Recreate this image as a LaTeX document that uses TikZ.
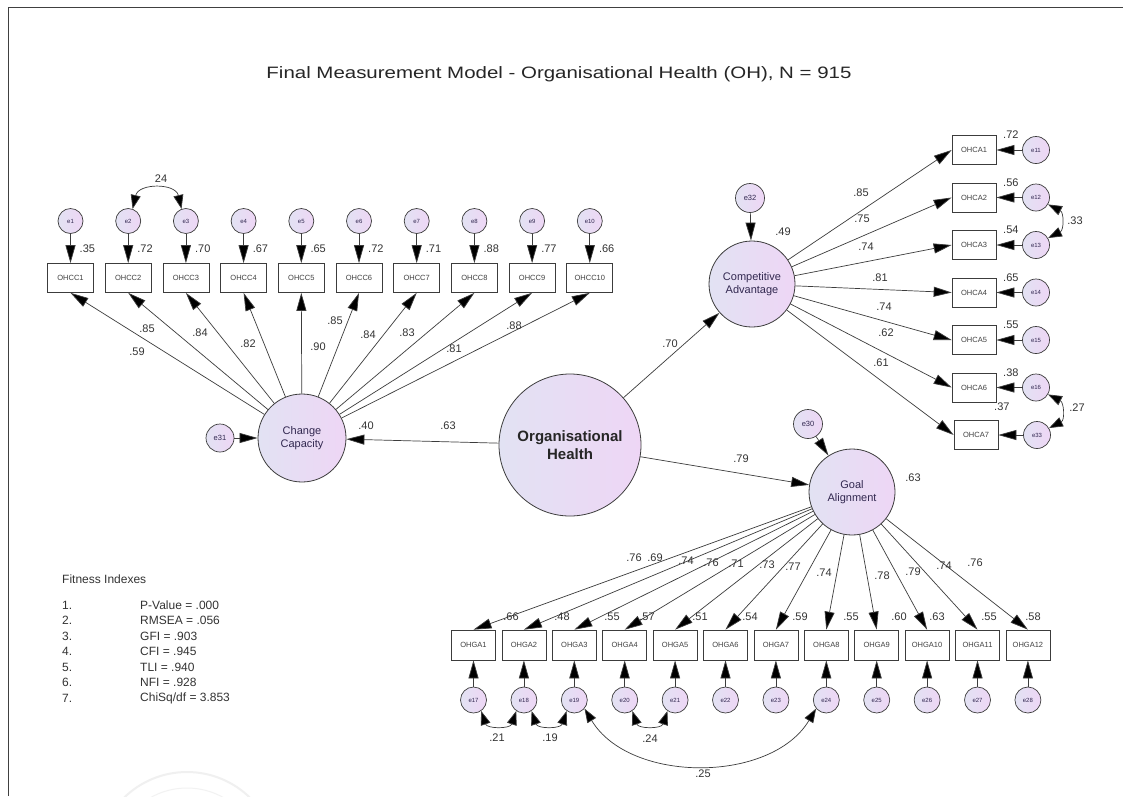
\documentclass[tikz,border=0pt]{standalone}
\usepackage{fontspec}
\setmainfont{Liberation Sans}
\usetikzlibrary{arrows.meta}

\definecolor{ln}{RGB}{60,60,60}
\definecolor{lavL}{RGB}{226,226,243}
\definecolor{lavR}{RGB}{238,214,245}
\definecolor{txtp}{RGB}{50,40,80}

\tikzset{
  lat/.style={circle, draw=ln, line width=0.8pt, left color=lavL, right color=lavR,
              text=txtp, align=center, inner sep=0pt, font=\fontsize{11}{12.5}\selectfont},
  err/.style={circle, draw=ln, line width=0.7pt, left color=lavL, right color=lavR,
              minimum size=25pt, inner sep=0pt, font=\fontsize{6}{6}\selectfont, text=txtp},
  obs/.style={rectangle, draw=ln, line width=0.7pt, fill=white, minimum width=46pt,
              minimum height=29pt, inner sep=0pt, font=\fontsize{7.5}{7.5}\selectfont, text=black!75},
  arr/.style={draw=ln, line width=0.7pt, -{Triangle[length=18pt,width=10pt,fill=black]}},
  cov/.style={draw=ln, line width=0.7pt,
              {Triangle[length=14pt,width=10pt,fill=black]}-{Triangle[length=14pt,width=10pt,fill=black]}},
  val/.style={font=\fontsize{11}{11}\selectfont, text=black!80, inner sep=0pt},
  fitt/.style={font=\fontsize{12}{12}\selectfont, text=black!80, inner sep=0pt, anchor=west},
}

\begin{document}
\begin{tikzpicture}[x=1pt,y=-1pt]
\useasboundingbox (0,0) rectangle (1123,796);
\fill[white] (0,0) rectangle (1123,796);
% page frame
\draw[black!75, line width=0.8pt] (8,796) -- (8,7) -- (1123,7);
% faint seal in the lower left corner
\begin{scope}
\clip (0,0) rectangle (1123,796);
\draw[black!6, line width=2pt] (187,862) circle[radius=90];
\draw[black!5, line width=1pt] (187,862) circle[radius=74];
\end{scope}

% title
\node[font=\fontsize{16.5}{16.5}\selectfont, text=black!85, xscale=1.24, transform shape] (title) at (559,74)
  {Final Measurement Model - Organisational Health (OH), N = 915};

% ---------- Change Capacity ----------
\foreach \i/\r in {1/.35,2/.72,3/.70,4/.67,5/.65,6/.72,7/.71,8/.88,9/.77,10/.66}{
  \pgfmathsetmacro\xx{70.5+57.7*(\i-1)}
  \node[obs] (OHCC\i) at (\xx,278) {OHCC\i};
  \node[err] (e\i) at (\xx,221) {e\i};
  \draw[arr] (e\i) -- (OHCC\i);
  \node[val, anchor=west] (rcc\i) at (\xx+9,249) {\r};
}
\draw[cov] (e2.70) .. controls +(6,-26) and +(-6,-26) .. (e3.110);
\node[val] (c23) at (161,179) {24};

\node[lat, minimum size=88pt] (CC) at (302,438) {Change\\Capacity};
\node[err, minimum size=28pt, font=\fontsize{7.5}{7.5}\selectfont] (e31) at (220,438) {e31};
\draw[arr] (e31) -- (CC);
\foreach \i in {1,...,10}{ \draw[arr] (CC) -- (OHCC\i.south); }
\node[val] (lcc1) at (137,352) {.59};
\node[val] (lcc2) at (147,329) {.85};
\node[val] (lcc3) at (200,333) {.84};
\node[val] (lcc4) at (248,344) {.82};
\node[val] (lcc5) at (318,347) {.90};
\node[val] (lcc6) at (335,321) {.85};
\node[val] (lcc7) at (368,335) {.84};
\node[val] (lcc8) at (407,333) {.83};
\node[val] (lcc9) at (454,349) {.81};
\node[val] (lcc10) at (514,326) {.88};
\node[val] (rCC) at (366,426) {.40};

% ---------- Organisational Health ----------
\node[lat, minimum size=142pt, font=\bfseries\fontsize{15}{18}\selectfont, text=black!85] (OH) at (570,445)
  {Organisational\\Health};
\draw[arr] (OH) -- (CC);
\node[val] (lOHCC) at (448,426) {.63};

% ---------- Competitive Advantage ----------
\node[lat, minimum size=86pt] (CA) at (752,284) {Competitive\\Advantage};
\node[err, minimum size=29pt, font=\fontsize{7.5}{7.5}\selectfont] (e32) at (750,198) {e32};
\draw[arr] (e32) -- (CA);
\node[val] (rCA) at (783,232) {.49};
\draw[arr] (OH) -- (CA);
\node[val] (lOHCA) at (670,344) {.70};

\foreach \i/\r in {1/.72,2/.56,3/.54,4/.65,5/.55,6/.38}{
  \pgfmathsetmacro\yy{150+47.5*(\i-1)}
  \node[obs, minimum width=44pt] (OHCA\i) at (974,\yy) {OHCA\i};
  \node[err, minimum size=27pt] (e1\i) at (1036,\yy) {e1\i};
  \draw[arr] (e1\i) -- (OHCA\i);
  \draw[arr] (CA) -- (OHCA\i.west);
  \node[val, anchor=west] (rca\i) at (1003,\yy-15) {\r};
}
\node[obs, minimum width=44pt] (OHCA7) at (976,435) {OHCA7};
\node[err, minimum size=27pt] (e33) at (1037,435) {e33};
\draw[arr] (e33) -- (OHCA7);
\draw[arr] (CA) -- (OHCA7.west);
\node[val, anchor=west] (rca7) at (994,407) {.37};

\node[val] (lca1) at (861,193) {.85};
\node[val] (lca2) at (862,219) {.75};
\node[val] (lca3) at (866,247) {.74};
\node[val] (lca4) at (880,278) {.81};
\node[val] (lca5) at (884,307) {.74};
\node[val] (lca6) at (886,333) {.62};
\node[val] (lca7) at (881,363) {.61};

\draw[cov] (e12.-30) .. controls +(16,8) and +(16,-8) .. (e13.30);
\node[val] (c1213) at (1075,221) {.33};
\draw[cov] (e16.-30) .. controls +(16,8) and +(16,-8) .. (e33.30);
\node[val] (c1633) at (1077,408) {.27};

% ---------- Goal Alignment ----------
\node[lat, minimum size=86pt] (GA) at (852,492) {Goal\\Alignment};
\node[err, minimum size=29pt, font=\fontsize{7.5}{7.5}\selectfont] (e30) at (808,424) {e30};
\draw[arr] (e30) -- (GA);
\node[val] (rGA) at (913,478) {.63};
\draw[arr] (OH) -- (GA);
\node[val] (lOHGA) at (741,459) {.79};

\foreach \i/\e/\r/\rx in {1/17/.66/511,2/18/.48/562,3/19/.55/612,4/20/.57/647,5/21/.51/700,6/22/.54/750,
                          7/23/.59/800,8/24/.55/851,9/25/.60/899,10/26/.63/937,11/27/.55/989,12/28/.58/1033}{
  \pgfmathsetmacro\xx{473.5+50.4*(\i-1)}
  \node[obs, minimum width=44pt, minimum height=30pt] (OHGA\i) at (\xx,645) {OHGA\i};
  \node[err, minimum size=26pt] (e\e) at (\xx,700) {e\e};
  \draw[arr] (e\e) -- (OHGA\i);
  \draw[arr] (GA) -- (OHGA\i.north);
  \node[val] (rga\i) at (\rx,617) {\r};
}
\node[val] (lga1) at (634,558) {.76};
\node[val] (lga2) at (655,558) {.69};
\node[val] (lga3) at (686,561) {.74};
\node[val] (lga4) at (711,563) {.76};
\node[val] (lga5) at (736,564) {.71};
\node[val] (lga6) at (767,565) {.73};
\node[val] (lga7) at (793,567) {.77};
\node[val] (lga8) at (824,573) {.74};
\node[val] (lga9) at (882,576) {.78};
\node[val] (lga10) at (913,572) {.79};
\node[val] (lga11) at (944,566) {.74};
\node[val] (lga12) at (975,563) {.76};

\draw[cov] (e17.-55) .. controls +(6,18) and +(-6,18) .. (e18.-125);
\node[val] (c1718) at (497,738) {.21};
\draw[cov] (e18.-55) .. controls +(6,18) and +(-6,18) .. (e19.-125);
\node[val] (c1819) at (550,738) {.19};
\draw[cov] (e20.-55) .. controls +(6,18) and +(-6,18) .. (e21.-125);
\node[val] (c2021) at (650,739) {.24};
\draw[cov] (e19.-40) .. controls +(45,75) and +(-45,75) .. (e24.-140);
\node[val] (c1924) at (703,774) {.25};

% ---------- fit indices ----------
\node[fitt] (fit0) at (62,579) {Fitness Indexes};
\node[fitt] (n1) at (62,605) {1.};   \node[fitt] (f1) at (140,605) {P-Value = .000};
\node[fitt] (n2) at (62,620.5) {2.}; \node[fitt] (f2) at (140,620.5) {RMSEA = .056};
\node[fitt] (n3) at (62,636) {3.};   \node[fitt] (f3) at (140,636) {GFI = .903};
\node[fitt] (n4) at (62,651.5) {4.}; \node[fitt] (f4) at (140,651.5) {CFI = .945};
\node[fitt] (n5) at (62,667) {5.};   \node[fitt] (f5) at (140,667) {TLI = .940};
\node[fitt] (n6) at (62,682.5) {6.}; \node[fitt] (f6) at (140,682.5) {NFI = .928};
\node[fitt] (n7) at (62,698) {7.};   \node[fitt] (f7) at (140,698) {ChiSq/df = 3.853};
\end{tikzpicture}
\end{document}
